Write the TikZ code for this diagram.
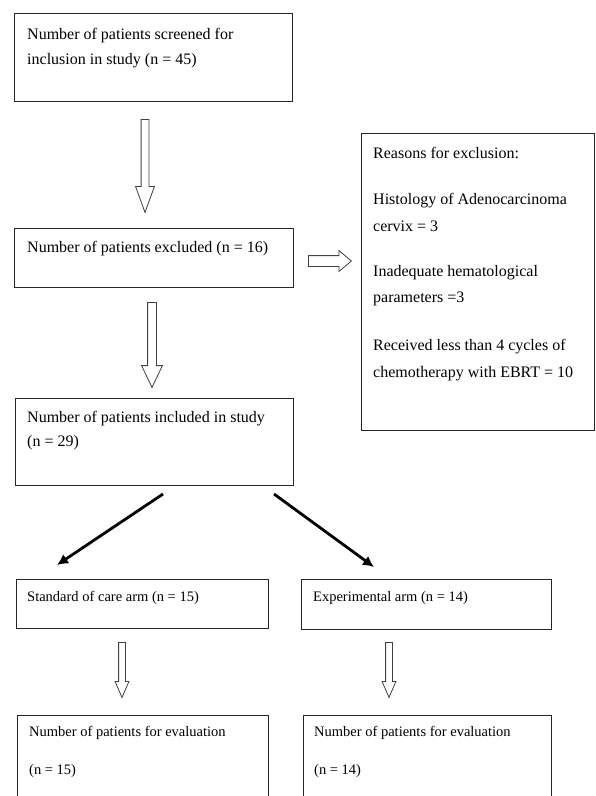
\documentclass[tikz,border=0pt]{standalone}
\usepackage{fontspec}
\setmainfont{Liberation Serif}
\usetikzlibrary{shapes.arrows,arrows.meta}
\tikzset{
  box/.style={draw=black!85,line width=0.9pt,anchor=north west,inner sep=0pt},
  bigtext/.style={anchor=base west,inner sep=0pt,font=\fontsize{16}{19}\selectfont},
  smalltext/.style={anchor=base west,inner sep=0pt,font=\fontsize{14.5}{17}\selectfont},
  blockarrow/.style={single arrow,draw=black!75,line width=0.8pt,fill=white,inner xsep=0pt,minimum width=0pt,anchor=tail},
  blackarrow/.style={line width=2.8pt,-{Latex[length=11pt,width=11pt]}}
}
\begin{document}
\begin{tikzpicture}[x=1pt,y=-1pt]
\clip (0,0) rectangle (595,796);
\fill[white] (0,0) rectangle (595,796);
% boxes
\node[box,minimum width=278pt,minimum height=88pt] (screen) at (14,13) {};
\node[box,minimum width=279pt,minimum height=59pt] (excl) at (14,228) {};
\node[box,minimum width=233pt,minimum height=297pt] (reasons) at (361,133) {};
\node[box,minimum width=278pt,minimum height=87pt] (incl) at (15,398) {};
\node[box,minimum width=252pt,minimum height=49pt] (std) at (16,579) {};
\node[box,minimum width=250pt,minimum height=50pt] (exp) at (301,579) {};
\node[box,minimum width=251pt,minimum height=90pt] (evstd) at (17,715) {};
\node[box,minimum width=248pt,minimum height=90pt] (evexp) at (303,715) {};
% texts
\node[bigtext] (t1a) at (27,39) {Number of patients screened for};
\node[bigtext] (t1b) at (27,64) {inclusion in study (n = 45)};
\node[bigtext] (t2) at (27,252) {Number of patients excluded (n = 16)};
\node[bigtext] (t3a) at (373,158) {Reasons for exclusion:};
\node[bigtext] (t3b) at (373,204) {Histology of Adenocarcinoma};
\node[bigtext] (t3c) at (373,231) {cervix = 3};
\node[bigtext] (t3d) at (373,276) {Inadequate hematological};
\node[bigtext] (t3e) at (373,302) {parameters =3};
\node[bigtext] (t3f) at (373,350) {Received less than 4 cycles of};
\node[bigtext] (t3g) at (373,377) {chemotherapy with EBRT = 10};
\node[bigtext] (t4a) at (27,422) {Number of patients included in study};
\node[bigtext] (t4b) at (27,446) {(n = 29)};
\node[smalltext] (t5) at (27,601) {Standard of care arm (n = 15)};
\node[smalltext] (t6) at (313,601) {Experimental arm (n = 14)};
\node[smalltext] (t7a) at (29,736) {Number of patients for evaluation};
\node[smalltext] (t7b) at (29,774) {(n = 15)};
\node[smalltext] (t8a) at (314,736) {Number of patients for evaluation};
\node[smalltext] (t8b) at (314,774) {(n = 14)};
% block arrows
\node[blockarrow,rotate=-90,minimum height=93pt,inner ysep=3.5pt,single arrow head extend=5.5pt,single arrow tip angle=40] (a1) at (145,119) {};
\node[blockarrow,rotate=-90,minimum height=85pt,inner ysep=4pt,single arrow head extend=6pt,single arrow tip angle=51] (a2) at (152,302) {};
\node[blockarrow,minimum height=43pt,inner ysep=5pt,single arrow head extend=5pt,single arrow tip angle=80] (a3) at (308,261) {};
\node[blockarrow,rotate=-90,minimum height=55pt,inner ysep=3pt,single arrow head extend=3.5pt,single arrow tip angle=47] (a4) at (122,642) {};
\node[blockarrow,rotate=-90,minimum height=55pt,inner ysep=3pt,single arrow head extend=3.5pt,single arrow tip angle=47] (a5) at (389,642) {};
% black arrows
\coordinate (d1s) at (163,494);
\coordinate (d1e) at (57,565);
\coordinate (d2s) at (274,494);
\coordinate (d2e) at (374,567);
\draw[blackarrow] (d1s) -- (d1e);
\draw[blackarrow] (d2s) -- (d2e);
\end{tikzpicture}
\end{document}
